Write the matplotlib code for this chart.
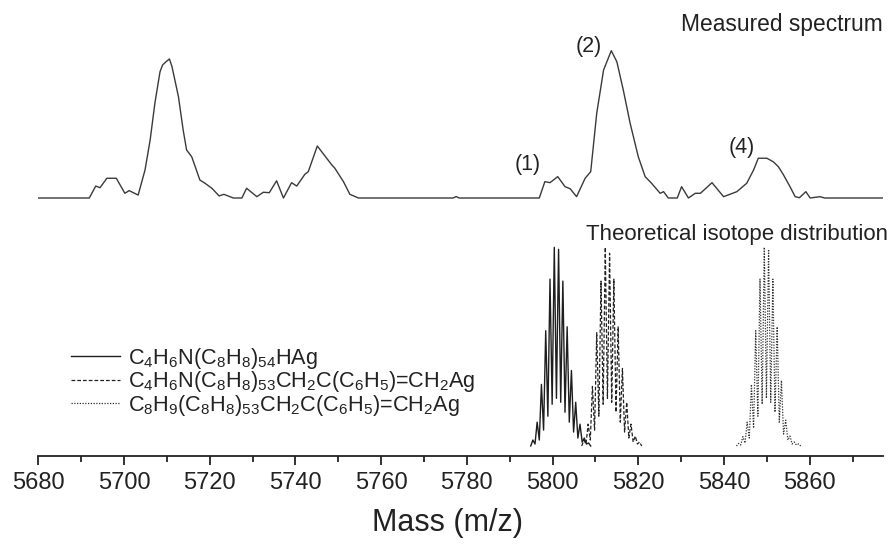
import numpy as np
import matplotlib
matplotlib.use("Agg")
import matplotlib.pyplot as plt
from matplotlib.ticker import MultipleLocator

plt.rcParams['font.family'] = ['Liberation Sans', 'DejaVu Sans']
plt.rcParams['mathtext.fontset'] = 'custom'
plt.rcParams['mathtext.rm'] = 'Liberation Sans'
plt.rcParams['mathtext.it'] = 'Liberation Sans:italic'
plt.rcParams['mathtext.bf'] = 'Liberation Sans:bold'

# ---------------- data ----------------
# measured spectrum (relative intensity, 0-100)
meas_mass = [5680, 5691.9, 5693.4, 5694.4, 5696.0, 5698.2, 5700.2, 5701.2, 5703.3,
             5704.9, 5706.1, 5707.2, 5708.4, 5709.0, 5709.8, 5710.6, 5711.2, 5712.7,
             5713.8, 5714.6, 5715.8, 5717.7, 5718.9, 5720.5, 5722.2, 5723.3, 5725.5,
             5727.5, 5728.6, 5731.0, 5732.5, 5733.9, 5735.6, 5737.2, 5739.1, 5740.3,
             5742.2, 5743.0, 5745.1, 5748.5, 5749.2, 5751.2, 5752.7, 5754.7,
             5776.8, 5777.5, 5778.2,
             5796.9, 5798.2, 5799.4, 5801.2, 5802.9, 5804.1, 5805.6, 5807.6, 5808.9,
             5810.3, 5811.9, 5813.7, 5815.0, 5816.5, 5818.1, 5820.0, 5821.6, 5823.1,
             5825.1, 5825.9, 5827.0, 5829.1, 5830.1, 5831.7, 5833.3, 5834.5, 5837.2,
             5839.9, 5843.0, 5845.3, 5846.9, 5848.0, 5850.0, 5851.5, 5852.7, 5853.9,
             5855.4, 5856.6, 5857.6, 5859.1, 5860.1, 5862.4, 5863.5, 5877]
meas_int = [0, 0, 8.1, 7.0, 13.4, 13.4, 3.2, 5.0, 2.0,
            19.0, 39.4, 64.3, 85.7, 90.3, 92.5, 94.4, 89.1, 68.8,
            46.2, 32.6, 28.0, 12.2, 10.0, 6.6, 1.4, 2.5, 0,
            0, 6.6, 0.9, 3.9, 3.6, 11.7, 0, 10.4, 8.1,
            16.1, 17.9, 35.3, 22.4, 20.2, 11.1, 2.5, 0,
            0, 1.0, 0,
            0, 11.1, 10.4, 14.5, 7.7, 6.3, 0.9, 13.4, 17.9,
            57.5, 86.9, 100, 92.5, 73.3, 50.7, 28.0, 14.5, 10.0,
            3.2, 4.3, 0, 0, 7.7, 0, 3.2, 3.2, 10.4,
            0.9, 4.3, 10.0, 19.0, 27.0, 27.0, 24.6, 21.2, 15.6,
            7.7, 0.9, 0.2, 4.3, 0, 0.9, 0, 0]

# theoretical isotope distributions: isotope masses, peak heights, valley heights
iso_labels = [r'C$_4$H$_6$N(C$_8$H$_8$)$_{54}$HAg',
              r'C$_4$H$_6$N(C$_8$H$_8$)$_{53}$CH$_2$C(C$_6$H$_5$)=CH$_2$Ag',
              r'C$_8$H$_9$(C$_8$H$_8$)$_{53}$CH$_2$C(C$_6$H$_5$)=CH$_2$Ag']
iso1_mass = [5795.4, 5796.4, 5797.4, 5798.4, 5799.4, 5800.4, 5801.4, 5802.4,
             5803.4, 5804.4, 5805.4, 5806.4, 5807.4, 5808.4]
iso1_peak = [3, 12, 31, 58, 84, 100, 99, 83, 60, 38, 22, 11, 4, 1.5]
iso1_valley = [1, 3, 8, 15, 21, 24, 22, 17, 12, 7, 4, 2, 1]

iso2_mass = [5807.3, 5808.3, 5809.3, 5810.3, 5811.3, 5812.3, 5813.3, 5814.3,
             5815.3, 5816.3, 5817.3, 5818.3, 5819.3, 5820.3]
iso2_peak = [3, 11, 30, 57, 83, 100, 97, 84, 60, 39, 22, 11, 5, 2]
iso2_valley = [1, 3, 8, 15, 21, 24, 22, 17, 12, 7, 4, 2, 1]

iso3_mass = [5843.4, 5844.4, 5845.4, 5846.4, 5847.4, 5848.4, 5849.4, 5850.4,
             5851.4, 5852.4, 5853.4, 5854.4, 5855.4, 5856.4, 5857.4]
iso3_peak = [1.3, 4.7, 12, 31, 58, 84, 100, 99, 84, 60, 33, 13, 5, 2, 1]
iso3_valley = [0.5, 1.5, 4, 9, 15, 21, 24, 22, 17, 12, 6, 3, 1, 0.5]

peak_labels = ['(1)', '(2)', '(4)']
peak_label_mass = [5794.3, 5808.5, 5844.2]
peak_label_int = [22.8, 103.0, 34.0]

x_ticks = [5680, 5700, 5720, 5740, 5760, 5780, 5800, 5820, 5840, 5860]

# ---------------- layout ----------------
W, H = 892, 545
fig = plt.figure(figsize=(W / 100, H / 100), dpi=100)
ax = fig.add_axes([38.3 / W, 89 / H, 844.7 / W, 456 / H])
ax.set_xlim(5680, 5877.1)
ax.set_ylim(0, 456)

MEAS_OFF, MEAS_SC = 258, 1.473
TH_OFF, TH_SC = 10, 1.987


def profile(mass, peak, valley):
    xs = [mass[0] - 0.5]
    ys = [0]
    for i, (m, p) in enumerate(zip(mass, peak)):
        xs.append(m)
        ys.append(p)
        if i < len(valley):
            xs.append(m + 0.5)
            ys.append(valley[i])
    xs.append(mass[-1] + 0.5)
    ys.append(0)
    return np.array(xs), np.array(ys)


ax.plot(meas_mass, MEAS_OFF + np.array(meas_int) * MEAS_SC,
        color='#3a3a3a', lw=1.0, solid_joinstyle='round')

styles = [dict(ls='-', lw=1.0, color='#1e1e1e'),
          dict(ls=(0, (3, 1.6)), lw=0.9, color='#222222'),
          dict(ls=(0, (1, 1.2)), lw=0.9, color='#333333')]
series = [(iso1_mass, iso1_peak, iso1_valley),
          (iso2_mass, iso2_peak, iso2_valley),
          (iso3_mass, iso3_peak, iso3_valley)]
handles = []
for (m, p, v), st, lab in zip(series, styles, iso_labels):
    xs, ys = profile(m, p, v)
    h, = ax.plot(xs, TH_OFF + ys * TH_SC, label=lab, **st)
    handles.append(h)

for t, m, i in zip(peak_labels, peak_label_mass, peak_label_int):
    ax.text(m, MEAS_OFF + i * MEAS_SC, t, ha='center', va='center', fontsize=15.5, color='#222222')

ax.text(1.0, 425, 'Measured spectrum', transform=ax.get_yaxis_transform(),
        ha='right', va='baseline', fontsize=16.4, color='#222222')
ax.text(1.006, 216, 'Theoretical isotope distribution', transform=ax.get_yaxis_transform(),
        ha='right', va='baseline', fontsize=16.0, color='#222222')

leg = ax.legend(handles=handles, loc='upper left', bbox_to_anchor=(33 / 844.7, 110 / 456),
                frameon=False, fontsize=15.6, handlelength=2.25, handletextpad=0.35,
                labelspacing=-0.07, borderaxespad=0, borderpad=0)
for txt in leg.get_texts():
    txt.set_color('#222222')

for s in ['top', 'left', 'right']:
    ax.spines[s].set_visible(False)
ax.spines['bottom'].set_linewidth(1.3)
ax.spines['bottom'].set_color('#222222')
ax.set_yticks([])
ax.set_xticks(x_ticks)
ax.set_xticklabels([str(t) for t in x_ticks])
ax.xaxis.set_minor_locator(MultipleLocator(10))
ax.tick_params(axis='x', which='major', direction='out', length=6.5, width=1.3,
               labelsize=17, pad=5, color='#222222', labelcolor='#222222')
ax.tick_params(axis='x', which='minor', direction='out', length=4.2, width=1.3, color='#222222')
ax.set_xlabel('Mass (m/z)', fontsize=22, color='#222222')
ax.xaxis.set_label_coords((447 - 38.3) / 844.7, -0.115)

fig.savefig('out.png', dpi=100)
